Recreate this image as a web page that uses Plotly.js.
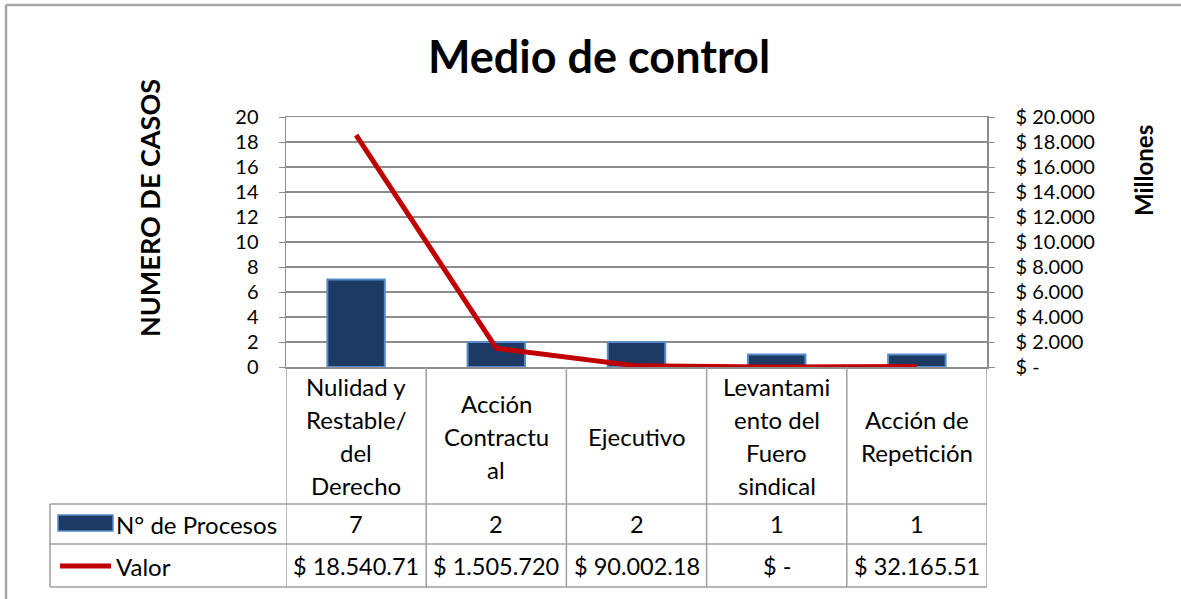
<!DOCTYPE html>
<html>
<head>
<meta charset="utf-8">
<script src="https://cdn.plot.ly/plotly-3.0.1.min.js"></script>
<style>html,body{margin:0;padding:0;background:#fff;}#chart{width:1181px;height:599px;}</style>
</head>
<body>
<div id="chart"></div>
<script>
// ---- data ----
const categories = ['Nulidad y Restable/ del Derecho', 'Acción Contractual', 'Ejecutivo', 'Levantamiento del Fuero sindical', 'Acción de Repetición'];
const categoryLabelLines = [
  ['Nulidad y', 'Restable/', 'del', 'Derecho'],
  ['Acción', 'Contractu', 'al'],
  ['Ejecutivo'],
  ['Levantami', 'ento del', 'Fuero', 'sindical'],
  ['Acción de', 'Repetición']
];
const procesos = [7, 2, 2, 1, 1];                                  // N° de Procesos
const valorMillones = [18540.71, 1505.72, 90.00218, 0, 32.16551];  // Valor (millones)
const valorLabels = ['$ 18.540.71', '$ 1.505.720', '$ 90.002.18', '$ -', '$ 32.165.51'];
const procesosLabels = ['7', '2', '2', '1', '1'];
const leftTickVals = [0, 2, 4, 6, 8, 10, 12, 14, 16, 18, 20];
const rightTickVals = [0, 2000, 4000, 6000, 8000, 10000, 12000, 14000, 16000, 18000, 20000];
const rightTickText = ['$ -', '$ 2.000', '$ 4.000', '$ 6.000', '$ 8.000', '$ 10.000', '$ 12.000', '$ 14.000', '$ 16.000', '$ 18.000', '$ 20.000'];
const seriesNames = ['N° de Procesos', 'Valor'];

// ---- layout helpers (pixel -> paper) ----
const W = 1181, H = 599;
const L = 286, R = 987, T = 117, B = 367;
const px = x => (x - L) / (R - L);
const py = y => (B - y) / (B - T);

const FONT = 'Lato, "Open Sans", sans-serif';
const gridCol = '#8c8c8c';
const tableCol = '#a0a0a0';
const TXT = 24;

const traces = [
  {
    type: 'bar', x: categories, y: procesos, name: seriesNames[0], width: 0.41,
    marker: {color: '#1d3a64', line: {color: '#5a8ccc', width: 2}},
    hoverinfo: 'x+y'
  },
  {
    type: 'scatter', mode: 'lines', x: categories, y: valorMillones, name: seriesNames[1], yaxis: 'y2',
    line: {color: '#c00000', width: 5}
  }
];

const shapes = [];
const annotations = [];

// outer chart border (top & left)
shapes.push({type: 'line', xref: 'paper', yref: 'paper', x0: px(6), x1: px(1181), y0: py(5), y1: py(5), line: {color: '#a6a6a6', width: 2.5}});
shapes.push({type: 'line', xref: 'paper', yref: 'paper', x0: px(6), x1: px(6), y0: py(5), y1: py(599), line: {color: '#a6a6a6', width: 2.5}});

// table vertical lines (category boundaries)
for (let i = 0; i <= categories.length; i++) {
  shapes.push({type: 'line', xref: 'x', yref: 'paper', x0: i - 0.5, x1: i - 0.5, y0: py(367), y1: py(587), line: {color: tableCol, width: 1.5}});
}
// left edge of legend column
shapes.push({type: 'line', xref: 'paper', yref: 'paper', x0: px(50), x1: px(50), y0: py(504), y1: py(587), line: {color: tableCol, width: 1.5}});
// horizontal table lines
[504, 544, 587].forEach(y => {
  shapes.push({type: 'line', xref: 'paper', yref: 'paper', x0: px(50), x1: px(987), y0: py(y), y1: py(y), line: {color: tableCol, width: 1.5}});
});

// legend keys
shapes.push({type: 'rect', xref: 'paper', yref: 'paper', x0: px(58), x1: px(113), y0: py(531), y1: py(515), fillcolor: '#1d3a64', line: {color: '#5a8ccc', width: 1.5}});
shapes.push({type: 'line', xref: 'paper', yref: 'paper', x0: px(60), x1: px(111), y0: py(566), y1: py(566), line: {color: '#c00000', width: 5}});

// category label lines
const lineGap = 33, rowCenter = 436;
categoryLabelLines.forEach((lines, i) => {
  const n = lines.length;
  lines.forEach((t, j) => {
    annotations.push({xref: 'x', yref: 'paper', x: categories[i], y: py(rowCenter + (j - (n - 1) / 2) * lineGap),
      text: t, showarrow: false, font: {family: FONT, size: TXT, color: '#000'}, xanchor: 'center', yanchor: 'middle'});
  });
});
// table value rows
categories.forEach((c, i) => {
  annotations.push({xref: 'x', yref: 'paper', x: c, y: py(524), text: procesosLabels[i], showarrow: false,
    font: {family: FONT, size: 23.5, color: '#000'}, xanchor: 'center', yanchor: 'middle'});
  annotations.push({xref: 'x', yref: 'paper', x: c, y: py(566), text: valorLabels[i], showarrow: false,
    font: {family: FONT, size: 23.5, color: '#000'}, xanchor: 'center', yanchor: 'middle'});
});
// legend names
annotations.push({xref: 'paper', yref: 'paper', x: px(114), y: py(524), text: seriesNames[0], showarrow: false,
  font: {family: FONT, size: TXT, color: '#000'}, xanchor: 'left', yanchor: 'middle'});
annotations.push({xref: 'paper', yref: 'paper', x: px(114), y: py(566), text: seriesNames[1], showarrow: false,
  font: {family: FONT, size: TXT, color: '#000'}, xanchor: 'left', yanchor: 'middle'});
// axis titles
annotations.push({xref: 'paper', yref: 'paper', x: px(149), y: py(208), text: '<b>NUMERO DE CASOS</b>', textangle: -90, showarrow: false,
  font: {family: FONT, size: 27, color: '#000'}, xanchor: 'center', yanchor: 'middle'});
annotations.push({xref: 'paper', yref: 'paper', x: px(1143), y: py(171), text: '<b>Millones</b>', textangle: -90, showarrow: false,
  font: {family: FONT, size: 24, color: '#000'}, xanchor: 'center', yanchor: 'middle'});

const layout = {
  width: W, height: H,
  margin: {l: L, r: W - R, t: T, b: H - B, pad: 0},
  paper_bgcolor: '#fff', plot_bgcolor: '#fff',
  showlegend: false,
  title: {text: '<b>Medio de control</b>', x: 599 / W, xanchor: 'center', y: 1 - 57 / H, yanchor: 'middle',
    font: {family: FONT, size: 45, color: '#000'}},
  xaxis: {type: 'category', range: [-0.5, 4.5], showticklabels: false, ticks: '', showgrid: false,
    showline: true, mirror: true, linecolor: gridCol, linewidth: 1.5, zeroline: false, fixedrange: true},
  yaxis: {range: [0, 20], tickvals: leftTickVals, ticks: 'outside', ticklen: 6, tickcolor: gridCol, showgrid: true,
    gridcolor: gridCol, gridwidth: 1.5, showline: true, linecolor: gridCol, linewidth: 1.5, zeroline: false,
    ticklabelstandoff: 16, tickfont: {family: FONT, size: 20, color: '#000'}, fixedrange: true},
  yaxis2: {overlaying: 'y', side: 'right', range: [0, 20000], tickvals: rightTickVals, ticktext: rightTickText,
    ticks: 'outside', ticklen: 6, tickcolor: gridCol, showgrid: false, showline: true, linecolor: gridCol, linewidth: 1.5,
    zeroline: false, ticklabelstandoff: 17, tickfont: {family: FONT, size: 20, color: '#000'}, fixedrange: true},
  shapes: shapes,
  annotations: annotations
};

Plotly.newPlot('chart', traces, layout, {displayModeBar: false, staticPlot: true});
</script>
</body>
</html>
